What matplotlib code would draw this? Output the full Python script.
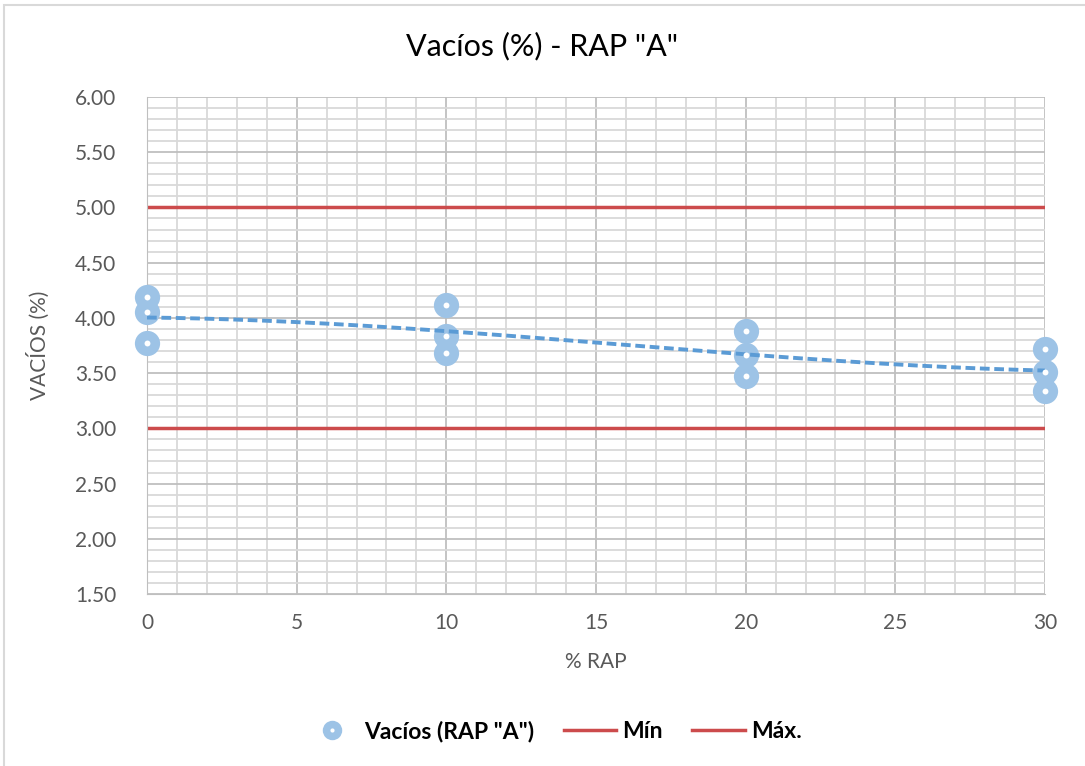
import numpy as np
import matplotlib.pyplot as plt
from matplotlib.ticker import MultipleLocator, FormatStrFormatter
from matplotlib.lines import Line2D
from matplotlib.patches import Rectangle

plt.rcParams['font.family'] = ['Lato', 'DejaVu Sans']

# ensayos de vacios por porcentaje de RAP
rap = [0, 0, 0, 10, 10, 10, 20, 20, 20, 30, 30, 30]
vacios = [4.19, 4.05, 3.77, 4.12, 3.84, 3.68, 3.88, 3.66, 3.47, 3.72, 3.51, 3.34]
lim_min = 3.00
lim_max = 5.00

fig = plt.figure(figsize=(10.85, 7.66), dpi=100)
ax = fig.add_axes([0.1355, 0.2245, 0.8276, 0.6489])

gris_menor = '#D9D9D9'
gris_mayor = '#BFBFBF'
rojo = '#CC4B4C'
azul = '#5B9BD5'
azul_claro = '#9DC3E6'

ax.set_xlim(0, 30)
ax.set_ylim(1.5, 6.0)
ax.xaxis.set_major_locator(MultipleLocator(5))
ax.xaxis.set_minor_locator(MultipleLocator(1))
ax.yaxis.set_major_locator(MultipleLocator(0.5))
ax.yaxis.set_minor_locator(MultipleLocator(0.1))
ax.yaxis.set_major_formatter(FormatStrFormatter('%.2f'))
ax.grid(which='minor', color=gris_menor, lw=1.3, zorder=0)
ax.grid(which='major', color=gris_mayor, lw=1.3, zorder=0)
ax.tick_params(which='both', length=0, labelsize=15, colors='#595959')
ax.tick_params(axis='y', pad=22)
ax.tick_params(axis='x', pad=14)
for s in ax.spines.values():
    s.set_visible(False)
ax.spines['left'].set_visible(True)
ax.spines['left'].set_color(gris_mayor)
ax.spines['bottom'].set_visible(True)
ax.spines['bottom'].set_color(gris_mayor)
ax.set_axisbelow(True)

ax.axhline(lim_min, color=rojo, lw=2.5, zorder=2)
ax.axhline(lim_max, color=rojo, lw=2.5, zorder=2)

# linea de tendencia polinomica
coef = np.polyfit(rap, vacios, 3)
xs = np.linspace(0, 30, 200)
ax.plot(xs, np.polyval(coef, xs), color=azul, lw=2.8, ls=(0, (2.5, 1.2)), zorder=4)

ax.scatter(rap, vacios, s=330, color=azul_claro, zorder=3, clip_on=False, linewidths=0)
ax.scatter(rap, vacios, s=18, color='white', zorder=5, clip_on=False, linewidths=0)

ax.set_xlabel('% RAP', fontsize=15, color='#595959', labelpad=13)
ax.set_ylabel('VACÍOS (%)', fontsize=15, color='#595959', labelpad=18)
fig.text(0.5, 0.94, 'Vacíos (%) - RAP "A"', ha='center', va='center', fontsize=22, color='black')

marca = (Line2D([], [], marker='o', ls='none', markersize=14, markerfacecolor=azul_claro,
                markeredgewidth=0),
         Line2D([], [], marker='o', ls='none', markersize=3, markerfacecolor='white',
                markeredgewidth=0))
handles = [marca,
           Line2D([], [], color=rojo, lw=2.5),
           Line2D([], [], color=rojo, lw=2.5)]
labels = ['Vacíos (RAP "A")', 'Mín', 'Máx.']
fig.legend(handles, labels, loc='center', bbox_to_anchor=(0.510, 0.045), ncol=3,
           frameon=False, prop={'weight': 'bold', 'size': 16.5}, handlelength=2.3,
           columnspacing=1.3, handletextpad=0.25)

fig.patches.append(Rectangle((0.004, -0.01), 1.2, 1.004, transform=fig.transFigure,
                             fill=False, edgecolor='#D9D9D9', lw=1.5))

fig.savefig('out.png', dpi=100)
